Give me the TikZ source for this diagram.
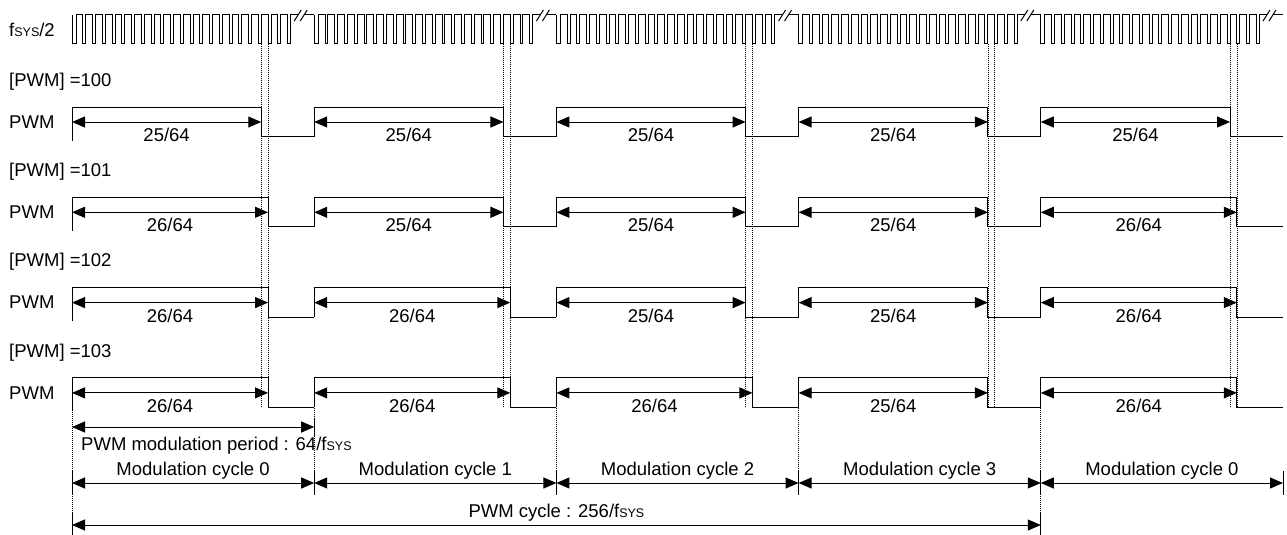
\documentclass[tikz,border=0pt]{standalone}
\usepackage{fontspec}
\setmainfont{Liberation Sans}
\usetikzlibrary{arrows.meta}
\newcommand{\fsys}{f{\fontsize{12.5}{12.5}\selectfont SYS}}

\begin{document}
\begin{tikzpicture}[x=1pt, y=-1pt,
                    every node/.style={inner sep=0pt, font=\fontsize{18.5}{20}\selectfont},
                    sig/.style={line width=1pt},
                    dimline/.style={line width=1pt, {Triangle[length=13pt,width=11pt]}-{Triangle[length=13pt,width=11pt]}},
                    guide/.style={line width=0.7pt, dash pattern=on 1pt off 1pt}]
\useasboundingbox (0,0) rectangle (1287,535);
% fsys/2 clock
\node[anchor=west] (clk) at (9,30) {\fsys/2};
\foreach \s in {0,...,4} {
  \pgfmathsetmacro{\xb}{72+242.2*\s}
  \pgfmathsetmacro{\xe}{\xb+242.2}
  \draw[sig] (\xb,15) -- (\xb,44) -- ++(4,0)
    \foreach \k in {0,...,21} { -- ++(0,-29) -- ++(6.8,0) -- ++(0,29) -- ++(2.95,0) }
    -- ++(0,-29) -- (\xe-16.2,15);
  \draw[sig] (\xe-10.2,15) -- (\xe,15);
  \draw[sig] (\xe-20,21) -- (\xe-13,10) (\xe-14,21) -- (\xe-7,10);
  \draw[guide] (\xb+189.25,44) -- (\xb+189.25,408) (\xb+196.05,44) -- (\xb+196.05,408);
}
% PWM outputs
\foreach \i/\v/\cyca/\cycb/\cycc/\cycd/\cyce in {0/100/25/25/25/25/25, 1/101/26/25/25/25/26,
                                                2/102/26/26/25/25/26, 3/103/26/26/26/25/26} {
  \pgfmathsetmacro{\yh}{107+90.3*\i}
  \pgfmathsetmacro{\yl}{\yh+29.5}
  \pgfmathsetmacro{\ya}{\yh+15}
  \node[anchor=west] (reg\i) at (9,\yh-25.5) {[PWM] =\v};
  \node[anchor=west] (pwm\i) at (9,\ya) {PWM};
  \draw[sig] (72,\yl+4) -- (72,\yl);
  \foreach \s/\w in {0/\cyca,1/\cycb,2/\cycc,3/\cycd,4/\cyce} {
    \pgfmathsetmacro{\xb}{72+242.2*\s}
    \pgfmathsetmacro{\xe}{\xb+242.2}
    \pgfmathsetmacro{\xf}{\xb+(\w==25 ? 189.25 : 196.05)}
    \draw[sig] (\xb,\yl) -- (\xb,\yh) -- (\xf,\yh) -- (\xf,\yl) -- (\xe,\yl);
    \draw[dimline] (\xb,\ya) -- (\xf,\ya);
    \node (len\i\s) at ({(\xb+\xf)/2},\yh+28) {\w/64};
  }
}
% periods
\draw[dimline] (72,427) -- (314.2,427);
\draw[sig] (314.2,419) -- (314.2,436);
\node[anchor=west] (period) at (81,446) {PWM modulation period : 64/\fsys};
\foreach \s/\m in {0/0,1/1,2/2,3/3,4/0} {
  \pgfmathsetmacro{\xb}{72+242.2*\s}
  \pgfmathsetmacro{\xe}{\xb+242.2}
  \draw[dimline] (\xb,483) -- (\xe,483);
  \node (mod\s) at ({(\xb+\xe)/2},470.5) {Modulation cycle \m};
}
\foreach \s in {0,...,5} \draw[sig] ({72+242.2*\s},471) -- ++(0,24);
\foreach \s in {1,2,3} \draw[guide] ({72+242.2*\s},408) -- ++(0,63);
\draw[guide] (72,408) -- (72,535) (1040.8,408) -- (1040.8,535);
\draw[dimline] (72,525) -- (1040.8,525);
\draw[sig] (72,513) -- (72,535) (1040.8,513) -- (1040.8,535);
\node (cycle) at (556.4,513) {PWM cycle : 256/\fsys};
\end{tikzpicture}
\end{document}
